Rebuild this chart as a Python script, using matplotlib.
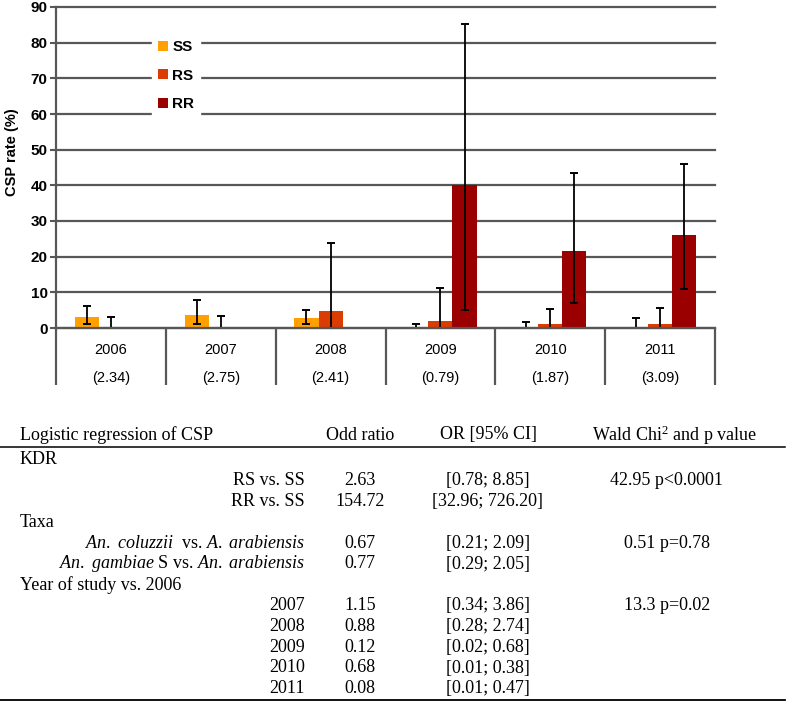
import numpy as np
import matplotlib
matplotlib.use("Agg")
import matplotlib.pyplot as plt
from matplotlib.patches import Patch
from matplotlib.lines import Line2D

# CSP rate by kdr genotype and year
years = ["2006", "2007", "2008", "2009", "2010", "2011"]
year_sub = ["(2.34)", "(2.75)", "(2.41)", "(0.79)", "(1.87)", "(3.09)"]
genotypes = ["SS", "RS", "RR"]

ss_rate = [3.0, 3.6, 2.7, 0.0, 0.0, 0.0]
ss_low = [1.0, 1.0, 1.0, 0.0, 0.0, 0.0]
ss_high = [6.3, 7.9, 5.1, 1.2, 1.8, 2.8]

rs_rate = [0.0, 0.0, 4.9, 2.0, 1.0, 1.1]
rs_low = [0.0, 0.0, 0.0, 0.0, 0.0, 0.0]
rs_high = [3.2, 3.4, 23.7, 11.3, 5.4, 5.6]

rr_rate = [np.nan, np.nan, np.nan, 40.0, 21.6, 26.0]
rr_low = [np.nan, np.nan, np.nan, 5.0, 7.1, 10.9]
rr_high = [np.nan, np.nan, np.nan, 85.3, 43.5, 46.0]

# logistic regression table
header = ["Logistic regression of CSP", "Odd ratio", "OR [95% CI]",
          r"Wald Chi$^{\mathrm{2}}$ and p value"]
row_labels = [
    "KDR", "RS vs. SS", "RR vs. SS", "Taxa",
    r"$\mathit{An.\ coluzzii}$  vs. $\mathit{A.\ arabiensis}$",
    r"$\mathit{An.\ gambiae}$ S vs. $\mathit{An.\ arabiensis}$",
    "Year of study vs. 2006", "2007", "2008", "2009", "2010", "2011",
]
row_is_group = [True, False, False, True, False, False, True, False, False, False, False, False]
odd_ratio = ["", "2.63", "154.72", "", "0.67", "0.77", "", "1.15", "0.88", "0.12", "0.68", "0.08"]
or_ci = ["", "[0.78; 8.85]", "[32.96; 726.20]", "", "[0.21; 2.09]", "[0.29; 2.05]", "",
         "[0.34; 3.86]", "[0.28; 2.74]", "[0.02; 0.68]", "[0.01; 0.38]", "[0.01; 0.47]"]
wald = ["", "42.95 p<0.0001", "", "", "0.51 p=0.78", "", "", "13.3 p=0.02", "", "", "", ""]

colors = ["#FFA000", "#DA3C02", "#9B0000"]

plt.rcParams["font.family"] = ["Liberation Sans", "DejaVu Sans"]
plt.rcParams["mathtext.fontset"] = "custom"
plt.rcParams["mathtext.rm"] = "Liberation Serif"
plt.rcParams["mathtext.it"] = "Liberation Serif:italic"

W, H = 788, 705
fig = plt.figure(figsize=(W / 100, H / 100), dpi=100)


def fx(px):
    return px / W


def fy(py):
    return 1 - py / H


ax = fig.add_axes([fx(56), fy(328), (715 - 56) / W, (328 - 7) / H])

x = np.arange(len(years))
bw = 0.22
grid_c = "#575757"

for yv in range(0, 91, 10):
    ax.axhline(yv, color=grid_c, lw=1.6, zorder=0, clip_on=False)

series = [(ss_rate, ss_low, ss_high), (rs_rate, rs_low, rs_high), (rr_rate, rr_low, rr_high)]
for i, (rate, low, high) in enumerate(series):
    rate = np.array(rate, dtype=float)
    low = np.array(low, dtype=float)
    high = np.array(high, dtype=float)
    xi = x + (i - 1) * bw
    ax.bar(xi, np.nan_to_num(rate), width=bw, color=colors[i], zorder=2)
    ax.errorbar(xi, rate, yerr=[rate - low, high - rate], fmt="none", ecolor="black",
                elinewidth=1.3, capsize=3, capthick=1.4, zorder=3)

ax.set_xlim(-0.5, len(years) - 0.5)
ax.set_ylim(0, 90)
ax.set_yticks(range(0, 91, 10))
ax.set_xticks([])
ax.tick_params(axis="y", length=4, width=1.5, color=grid_c, pad=2, labelsize=11)
for lab in ax.get_yticklabels():
    lab.set_fontweight("bold")
for s in ["top", "right"]:
    ax.spines[s].set_visible(False)
ax.spines["left"].set_color(grid_c)
ax.spines["left"].set_linewidth(1.6)
ax.spines["bottom"].set_color(grid_c)
ax.spines["bottom"].set_linewidth(1.6)
ax.spines["bottom"].set_zorder(4)

# category label boxes under the axis
xt = ax.get_xaxis_transform()
ax.vlines(np.arange(len(years) + 1) - 0.5, 0, (328 - 385) / 321, transform=xt,
          color=grid_c, lw=1.6, clip_on=False)
for i, (yr, sub) in enumerate(zip(years, year_sub)):
    ax.text(i, (328 - 349.5) / 321, yr, transform=xt, ha="center", va="center", fontsize=10.5)
    ax.text(i, (328 - 378) / 321, sub, transform=xt, ha="center", va="center", fontsize=10.5)

fig.text(fx(12), fy(152), "CSP rate (%)", rotation=90, ha="center", va="center",
         fontsize=10.5, fontweight="bold")

handles = [Patch(facecolor=c, edgecolor="none") for c in colors]
ax.legend(handles, genotypes, loc="upper left", bbox_to_anchor=(0.1336, 0.94),
          frameon=True, facecolor="white", edgecolor="white", framealpha=1,
          fancybox=False, handlelength=0.65, handleheight=0.65, handletextpad=0.3,
          labelspacing=0.95, borderpad=0.4, prop={"weight": "bold", "size": 11})

# regression table
serif = "Liberation Serif"
tfs = 13
col_x = [20, 360, 488, 675]
fig.text(fx(col_x[0]), fy(435), header[0], ha="left", va="center", family=serif, fontsize=tfs)
for cx, h in zip(col_x[1:], header[1:]):
    fig.text(fx(cx), fy(435), h, ha="center", va="center", family=serif, fontsize=tfs)

fig.add_artist(Line2D([0, fx(785)], [fy(446.5)] * 2, color="black", lw=1.1))
fig.add_artist(Line2D([0, fx(785)], [fy(699.5)] * 2, color="black", lw=1.3))

row_y0, row_step = 460, 20.8
for i, lab in enumerate(row_labels):
    yy = fy(row_y0 + i * row_step)
    if row_is_group[i]:
        fig.text(fx(20), yy, lab, ha="left", va="center", family=serif, fontsize=tfs)
    else:
        fig.text(fx(305), yy, lab, ha="right", va="center", family=serif, fontsize=tfs)
    fig.text(fx(360), yy, odd_ratio[i], ha="center", va="center", family=serif, fontsize=tfs)
    fig.text(fx(488), yy, or_ci[i], ha="center", va="center", family=serif, fontsize=tfs)
    fig.text(fx(667), yy, wald[i], ha="center", va="center", family=serif, fontsize=tfs)

fig.savefig("out.png", dpi=100)
